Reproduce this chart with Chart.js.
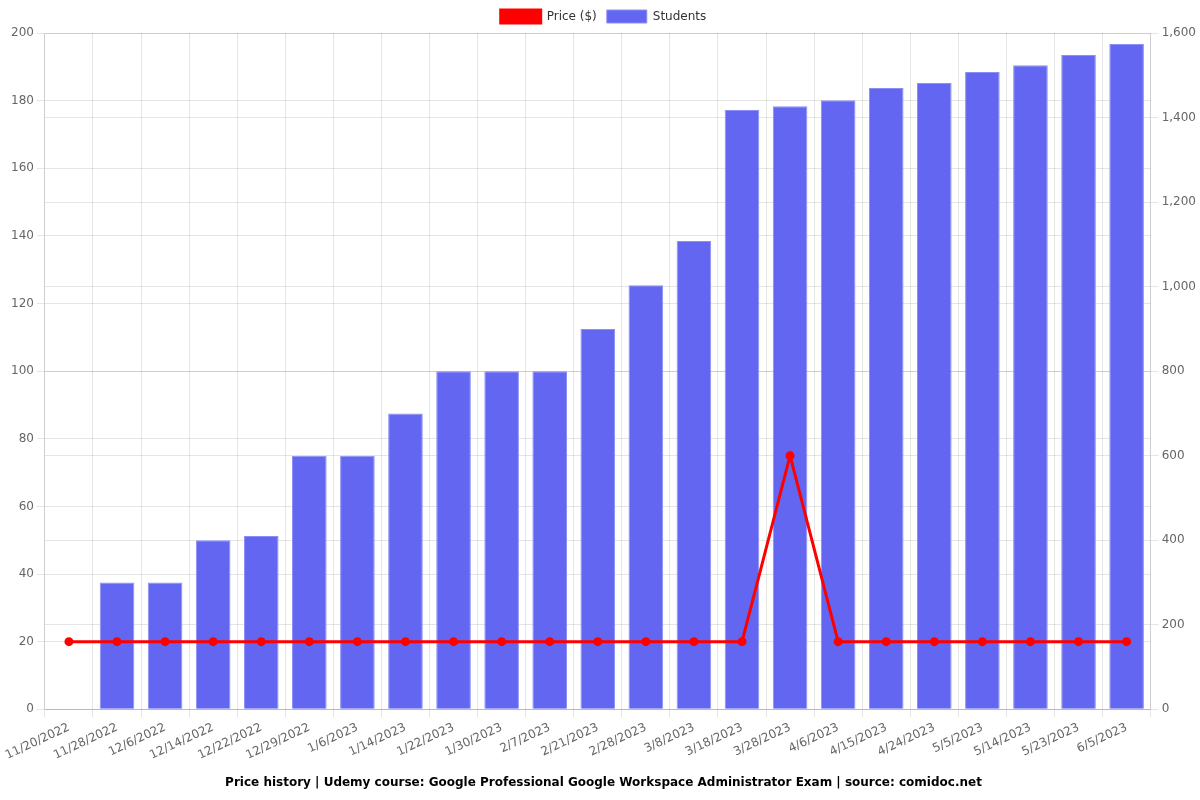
<!DOCTYPE html>
<html>
<head>
<meta charset="utf-8">
<script src="https://cdn.jsdelivr.net/npm/chart.js@4"></script>
<style>
html,body{margin:0;padding:0;background:#fff;}
#wrap{width:1200px;height:800px;}
</style>
</head>
<body>
<div id="wrap"><canvas id="c" width="1200" height="800"></canvas></div>
<script>
const categories = ["11/20/2022","11/28/2022","12/6/2022","12/14/2022","12/22/2022","12/29/2022","1/6/2023","1/14/2023","1/22/2023","1/30/2023","2/7/2023","2/21/2023","2/28/2023","3/8/2023","3/18/2023","3/28/2023","4/6/2023","4/15/2023","4/24/2023","5/5/2023","5/14/2023","5/23/2023","6/5/2023"];
const priceValues = [20,20,20,20,20,20,20,20,20,20,20,20,20,20,20,75,20,20,20,20,20,20,20];
const studentValues = [0,300,300,400,410,600,600,700,800,800,800,900,1003,1108,1418,1427,1441,1470,1482,1508,1524,1548,1574];
const titleText = "Price history | Udemy course: Google Professional Google Workspace Administrator Exam | source: comidoc.net";

Chart.defaults.font.family = "'DejaVu Sans', sans-serif";
Chart.defaults.font.size = 12;
Chart.defaults.color = "#666";

new Chart(document.getElementById('c'), {
  type: 'bar',
  data: {
    labels: categories,
    datasets: [
      {
        type: 'line',
        label: 'Price ($)',
        data: priceValues,
        borderColor: 'rgb(255,0,0)',
        backgroundColor: 'rgb(255,0,0)',
        borderWidth: 3,
        pointRadius: 3,
        pointBackgroundColor: 'rgb(255,0,0)',
        tension: 0,
        yAxisID: 'y',
        order: 0
      },
      {
        type: 'bar',
        label: 'Students',
        data: studentValues,
        backgroundColor: 'rgba(99,102,241,1)',
        borderColor: 'rgba(140,142,245,1)',
        borderWidth: 1,
        yAxisID: 'y1',
        order: 1
      }
    ]
  },
  options: {
    responsive: false,
    animation: false,
    layout: { padding: { left: 8, right: 1, top: 0, bottom: 5 } },
    plugins: {
      legend: {
        position: 'top',
        labels: { boxWidth: 40, boxHeight: 13, color: '#333', padding: 10 }
      },
      title: {
        display: true,
        text: titleText,
        position: 'bottom',
        color: '#000',
        font: { size: 12, weight: 'bold' },
        padding: { top: 10, bottom: 5 }
      },
      tooltip: { enabled: false }
    },
    scales: {
      x: {
        grid: { color: 'rgba(0,0,0,0.1)', offset: true },
        ticks: { maxRotation: 25, minRotation: 25, autoSkip: false, color: '#666' }
      },
      y: {
        position: 'left',
        min: 0, max: 200,
        ticks: { stepSize: 20 },
        grid: { color: 'rgba(0,0,0,0.1)' }
      },
      y1: {
        position: 'right',
        min: 0, max: 1600,
        ticks: { stepSize: 200 },
        grid: { color: 'rgba(0,0,0,0.1)' }
      }
    }
  }
});
</script>
</body>
</html>
